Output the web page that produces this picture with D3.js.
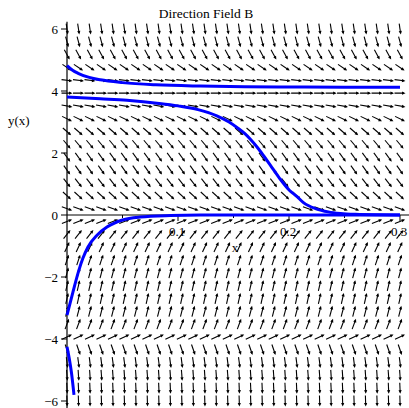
<!DOCTYPE html>
<html>
<head>
<meta charset="utf-8">
<script src="https://cdn.jsdelivr.net/npm/d3@7"></script>
<style>
  body { margin: 0; background: #fff; }
  text { font-family: "Liberation Serif", "DejaVu Serif", serif; fill: #000; }
</style>
</head>
<body>
<div class="chart"></div>
<script>
// direction field grid (data units) and the slope read for every row
const fieldX = [0, 0.01034, 0.02069, 0.03103, 0.04138, 0.05172, 0.06207, 0.07241, 0.08276, 0.0931,
  0.10345, 0.11379, 0.12414, 0.13448, 0.14483, 0.15517, 0.16552, 0.17586, 0.18621, 0.19655,
  0.2069, 0.21724, 0.22759, 0.23793, 0.24828, 0.25862, 0.26897, 0.27931, 0.28966, 0.3];
const fieldY = [-6, -5.586, -5.172, -4.759, -4.345, -3.931, -3.517, -3.103, -2.69, -2.276,
  -1.862, -1.448, -1.034, -0.621, -0.207, 0.207, 0.621, 1.034, 1.448, 1.862,
  2.276, 2.69, 3.103, 3.517, 3.931, 4.345, 4.759, 5.172, 5.586, 6];
const rowSlope = [-1200, -814, -510, -277, -104, 17, 96, 140, 158, 155,
  137, 110, 78, 45, 14, -12.5, -33, -46, -51, -50,
  -42.5, -31, -17.7, -6.2, -0.15, -4.3, -24, -65, -135, -240];

// solution curves
const curveA = [[0, 4.82], [0.005, 4.67], [0.01, 4.57], [0.02, 4.44], [0.03, 4.36], [0.05, 4.27],
  [0.08, 4.2], [0.12, 4.16], [0.16, 4.14], [0.2, 4.13], [0.25, 4.12], [0.3, 4.12]];
const curveB = [[0, 3.81], [0.03, 3.75], [0.054, 3.7], [0.083, 3.6], [0.1, 3.52], [0.118, 3.4],
  [0.135, 3.2], [0.146, 3.0], [0.154, 2.8], [0.16, 2.63], [0.165, 2.45], [0.171, 2.2],
  [0.1753, 2.0], [0.1833, 1.6], [0.1912, 1.2], [0.2003, 0.8], [0.207, 0.6], [0.213, 0.4],
  [0.2244, 0.2], [0.2355, 0.1], [0.2464, 0.05], [0.26, 0.021], [0.28, 0.006], [0.3, 0.002]];
const curveC = [[0, -3.23], [0.0054, -2.48], [0.0108, -1.77], [0.0144, -1.39], [0.0189, -1.03],
  [0.027, -0.65], [0.036, -0.39], [0.05, -0.16], [0.066, -0.065], [0.093, -0.016], [0.12, 0], [0.3, 0]];
const curveD = [[0, -4.25], [0.002, -4.62], [0.004, -5.08], [0.0063, -5.8]];

const xTicks = [0.1, 0.2, 0.3];
const xMinorTicks = [0.05, 0.15, 0.25];
const yTicks = [-6, -4, -2, 0, 2, 4, 6];

const W = 409, H = 408;

const svg = d3.select('.chart')
  .append('svg')
  .attr('width', W)
  .attr('height', H);

const x = d3.scaleLinear().domain([0, 0.3]).range([67, 400]);
const y = d3.scaleLinear().domain([-6, 6]).range([401, 29]);

// pixel per unit ratio, to turn a slope into a screen angle
const ky = y(0) - y(1);
const kx = x(1) - x(0);

const arrows = [];
fieldY.forEach((yv, i) => {
  fieldX.forEach(xv => arrows.push({ x: xv, y: yv, s: rowSlope[i] }));
});

const L = 11, headL = 3.5, headW = 1.6;
const gArrows = svg.append('g');
arrows.forEach(d => {
  const a = Math.atan(d.s * ky / kx);
  const ux = Math.cos(a), uy = -Math.sin(a);
  const cx = x(d.x), cy = y(d.y);
  const x0 = cx - ux * L / 2, y0 = cy - uy * L / 2;
  const x1 = cx + ux * L / 2, y1 = cy + uy * L / 2;
  gArrows.append('line')
    .attr('x1', x0).attr('y1', y0)
    .attr('x2', x1 - ux * 1.5).attr('y2', y1 - uy * 1.5)
    .attr('stroke', '#000')
    .attr('stroke-width', 1.1);
  const bx = x1 - ux * headL, by = y1 - uy * headL;
  gArrows.append('path')
    .attr('d', `M${x1},${y1}L${bx - uy * headW},${by + ux * headW}L${bx + uy * headW},${by - ux * headW}Z`)
    .attr('fill', '#000');
});

// axes
const axisG = svg.append('g');
axisG.append('line')
  .attr('x1', x(0)).attr('x2', 409)
  .attr('y1', y(0)).attr('y2', y(0))
  .attr('stroke', '#000').attr('stroke-width', 1);
axisG.append('line')
  .attr('x1', x(0)).attr('x2', x(0))
  .attr('y1', y(6.23)).attr('y2', 408)
  .attr('stroke', '#000').attr('stroke-width', 1.2);

axisG.selectAll('.xt').data(xTicks).join('line')
  .attr('x1', d => x(d)).attr('x2', d => x(d))
  .attr('y1', y(0)).attr('y2', y(0) + 6)
  .attr('stroke', '#000');
axisG.selectAll('.xm').data(xMinorTicks).join('line')
  .attr('x1', d => x(d)).attr('x2', d => x(d))
  .attr('y1', y(0)).attr('y2', y(0) + 3)
  .attr('stroke', '#000');
axisG.selectAll('.xl').data(xTicks).join('text')
  .attr('x', d => x(d) - 1)
  .attr('y', y(0) + 21)
  .attr('text-anchor', 'middle')
  .attr('font-size', 13)
  .text(d => d3.format('.1f')(d));

axisG.selectAll('.yt').data(yTicks).join('line')
  .attr('x1', x(0) - 6).attr('x2', x(0))
  .attr('y1', d => y(d)).attr('y2', d => y(d))
  .attr('stroke', '#000');
axisG.selectAll('.yl').data(yTicks).join('text')
  .attr('x', 58)
  .attr('y', d => y(d) + 4.5)
  .attr('text-anchor', 'end')
  .attr('font-size', 13)
  .text(d => d < 0 ? '\u2212' + Math.abs(d) : d);

svg.append('text')
  .attr('x', 235).attr('y', 252)
  .attr('text-anchor', 'middle')
  .attr('font-size', 13)
  .text('x');

svg.append('text')
  .attr('x', 8).attr('y', 125)
  .attr('font-size', 13)
  .text('y(x)');

svg.append('text')
  .attr('x', 206).attr('y', 18)
  .attr('text-anchor', 'middle')
  .attr('font-size', 13.5)
  .text('Direction Field B');

// solution curves
const line = d3.line()
  .x(d => x(d[0]))
  .y(d => y(d[1]))
  .curve(d3.curveMonotoneX);

svg.append('g').selectAll('path')
  .data([curveA, curveB, curveC, curveD])
  .join('path')
  .attr('d', line)
  .attr('fill', 'none')
  .attr('stroke', '#0000ff')
  .attr('stroke-width', 3)
  .attr('stroke-linecap', 'butt');
</script>
</body>
</html>
